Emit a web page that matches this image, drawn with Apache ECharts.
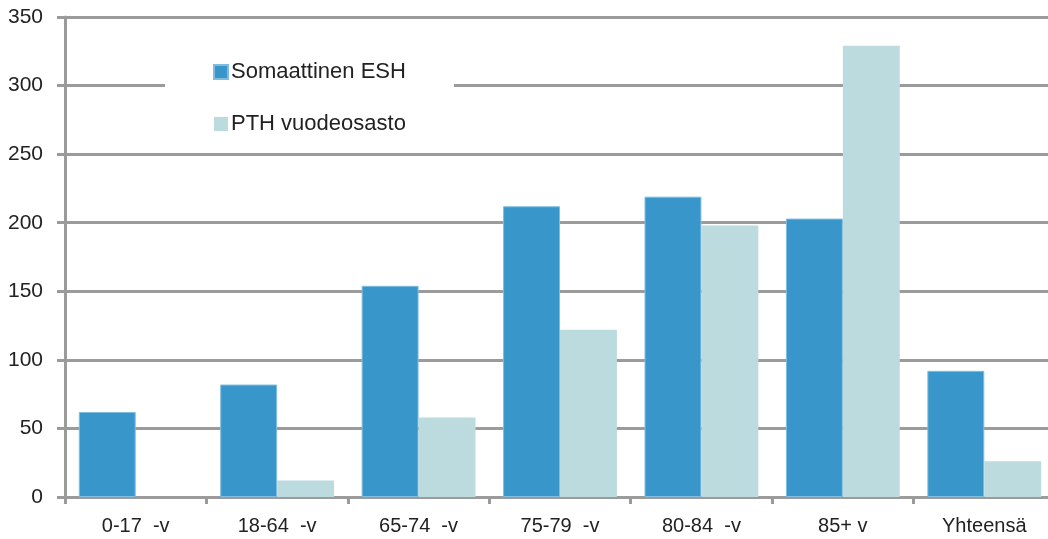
<!DOCTYPE html>
<html>
<head>
<meta charset="utf-8">
<script src="https://cdn.jsdelivr.net/npm/echarts@6/dist/echarts.min.js"></script>
<style>
html,body{margin:0;padding:0;background:#fff;}
#c{width:1048px;height:539px;}
</style>
</head>
<body>
<div id="c"></div>
<script>
const categories = ['0-17  -v', '18-64  -v', '65-74  -v', '75-79  -v', '80-84  -v', '85+ v', 'Yhteensä'];
const esh = [62, 82, 154, 212, 219, 203, 92];
const pth = [0, 12, 58, 122, 198, 329, 26];
const seriesNames = ['Somaattinen ESH', 'PTH vuodeosasto'];
const yTicks = [0, 50, 100, 150, 200, 250, 300, 350];

const gridGray = '#9b9b9b';
const font = 'Liberation Sans, Arial, sans-serif';
const chart = echarts.init(document.getElementById('c'), null, {renderer: 'canvas'});
chart.setOption({
  animation: false,
  backgroundColor: '#fff',
  grid: {left: 65, width: 990, top: 17, bottom: 42, containLabel: false, outerBoundsMode: 'none'},
  legend: {
    orient: 'vertical',
    left: 165,
    top: 53,
    padding: [8, 48, 8, 48],
    backgroundColor: '#fff',
    itemWidth: 14,
    itemHeight: 14,
    itemGap: 30,
    icon: 'rect',
    textStyle: {fontFamily: font, fontSize: 22, color: '#222', padding: [0, 0, 0, -2]},
    data: seriesNames
  },
  xAxis: {
    type: 'category',
    data: categories,
    axisLine: {lineStyle: {color: gridGray, width: 3}},
    axisTick: {show: true, length: 7, lineStyle: {color: gridGray, width: 3}, alignWithLabel: false},
    axisLabel: {fontFamily: font, fontSize: 20, color: '#222', margin: 19, interval: 0}
  },
  yAxis: {
    type: 'value',
    min: yTicks[0],
    max: yTicks[yTicks.length - 1],
    interval: 50,
    axisLine: {show: true, lineStyle: {color: gridGray, width: 3}},
    axisTick: {show: true, length: 8, lineStyle: {color: gridGray, width: 3}},
    axisLabel: {fontFamily: font, fontSize: 21, color: '#222', margin: 22},
    splitLine: {lineStyle: {color: gridGray, width: 3}}
  },
  series: [
    {
      name: seriesNames[0], type: 'bar', data: esh,
      barGap: '0%', barCategoryGap: '19.5%',
      itemStyle: {color: '#3996cb', borderColor: '#7fbde0', borderWidth: 1}
    },
    {
      name: seriesNames[1], type: 'bar', data: pth,
      itemStyle: {color: '#bcdbdf'}
    }
  ]
});
</script>
</body>
</html>
